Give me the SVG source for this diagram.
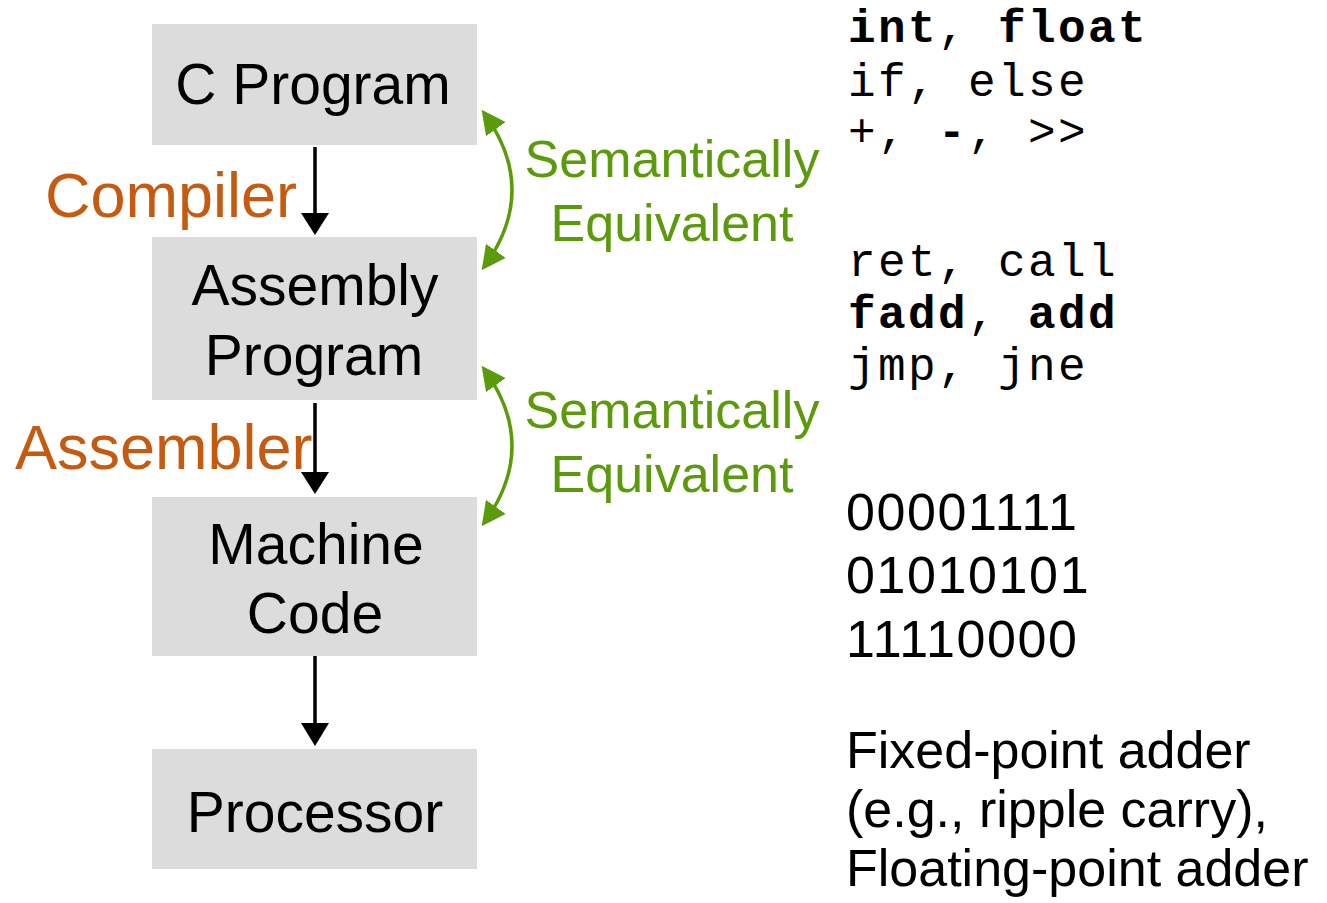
<svg xmlns="http://www.w3.org/2000/svg" width="1327" height="903" viewBox="0 0 1327 903">
<style>
.box{fill:#dcdcdc;}
.bl{font-family:"Liberation Sans",Arial,sans-serif;font-size:57px;fill:#000;text-anchor:middle;}
.tool{font-family:"Liberation Sans",Arial,sans-serif;font-size:63px;fill:#c55a11;}
.sem{font-family:"Liberation Sans",Arial,sans-serif;font-size:52px;fill:#5b9a0a;text-anchor:middle;}
.mono{font-family:"Liberation Mono","Courier New",monospace;font-size:46px;letter-spacing:2.4px;fill:#000;}
.b{font-weight:bold;}
.txt{font-family:"Liberation Sans",Arial,sans-serif;font-size:52px;fill:#000;}
.num{letter-spacing:1.6px;}
.flow{stroke:#000;stroke-width:3.5;fill:none;}
.eq{stroke:#5b9a0a;stroke-width:3.5;fill:none;marker-start:url(#ga);marker-end:url(#ga);}
</style>
<defs>
<marker id="ga" viewBox="0 0 24 24" refX="20" refY="12" markerWidth="24" markerHeight="24" markerUnits="userSpaceOnUse" orient="auto-start-reverse">
<path d="M0,0 L24,12 L0,24 Z" fill="#5b9a0a"/>
</marker>
</defs>
<rect width="1327" height="903" fill="#fff"/>
<g id="node-c-program">
<rect class="box" x="152" y="24" width="325" height="121"/>
<text class="bl" x="313" y="104">C Program</text>
</g>
<g id="node-assembly">
<rect class="box" x="152" y="237" width="325" height="163"/>
<text class="bl" x="315" y="305">Assembly</text>
<text class="bl" x="314" y="375">Program</text>
</g>
<g id="node-machine">
<rect class="box" x="152" y="497" width="325" height="159"/>
<text class="bl" x="316" y="564">Machine</text>
<text class="bl" x="315" y="633">Code</text>
</g>
<g id="node-processor">
<rect class="box" x="152" y="749" width="325" height="120"/>
<text class="bl" x="315" y="832">Processor</text>
</g>
<g id="connectors">
<line class="flow" x1="315" y1="147" x2="315" y2="216"/>
<path d="M301,213 L329,213 L315,235 Z" fill="#000"/>
<line class="flow" x1="315" y1="403" x2="315" y2="474"/>
<path d="M301,472 L329,472 L315,494 Z" fill="#000"/>
<line class="flow" x1="315" y1="656" x2="315" y2="725"/>
<path d="M301,723 L329,723 L315,746 Z" fill="#000"/>
<path class="eq" d="M484,113 Q540,190 484,267"/>
<path class="eq" d="M484,369 Q540,446 484,523"/>
</g>
<g id="labels">
<text class="tool" x="45" y="217">Compiler</text>
<text class="tool" x="15" y="469">Assembler</text>
<text class="sem" x="672" y="177">Semantically</text>
<text class="sem" x="672" y="241">Equivalent</text>
<text class="sem" x="672" y="428">Semantically</text>
<text class="sem" x="672" y="492">Equivalent</text>
</g>
<g id="examples">
<text class="mono" x="848" y="42"><tspan class="b">int</tspan>, <tspan class="b">float</tspan></text>
<text class="mono" x="848" y="96">if, else</text>
<text class="mono" x="848" y="146">+, <tspan class="b">-</tspan>, &gt;&gt;</text>
<text class="mono" x="848" y="276">ret, call</text>
<text class="mono" x="848" y="328"><tspan class="b">fadd</tspan>, <tspan class="b">add</tspan></text>
<text class="mono" x="848" y="380">jmp, jne</text>
<text class="txt num" x="846" y="530">00001111</text>
<text class="txt num" x="846" y="593">01010101</text>
<text class="txt num" x="846" y="657">11110000</text>
<text class="txt" x="846" y="768">Fixed-point adder</text>
<text class="txt" x="846" y="827">(e.g., ripple carry),</text>
<text class="txt" x="846" y="886">Floating-point adder</text>
</g>
</svg>
